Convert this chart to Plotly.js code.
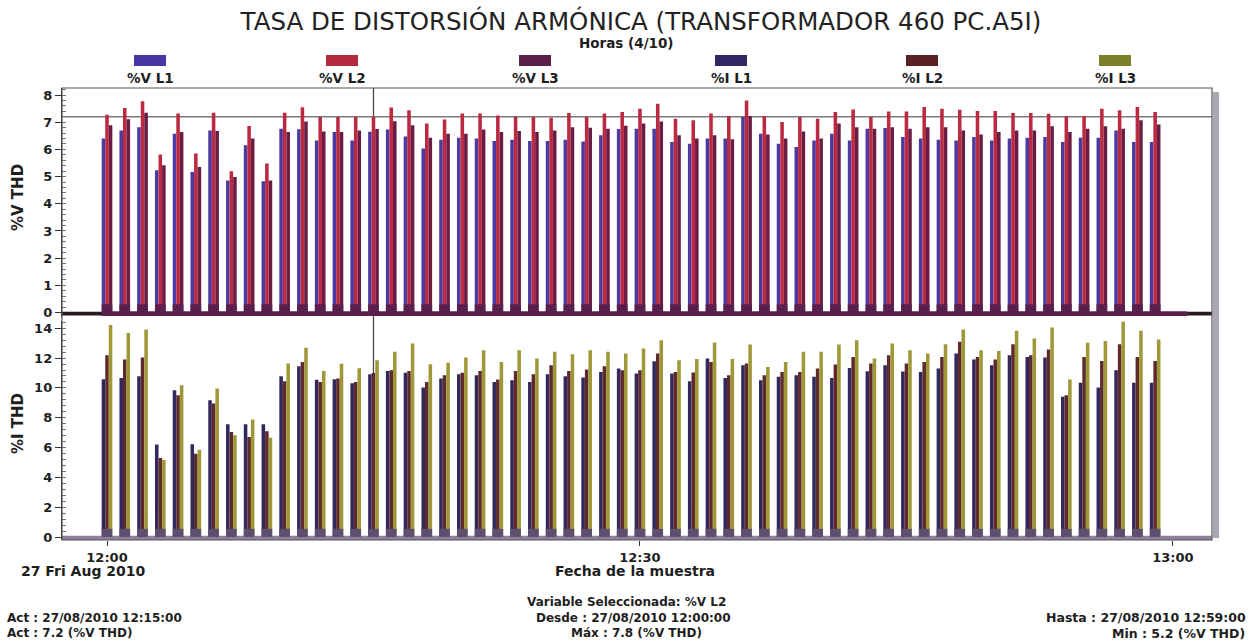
<!DOCTYPE html>
<html>
<head>
<meta charset="utf-8">
<script src="https://cdn.plot.ly/plotly-3.0.1.min.js"></script>
<style>
  html, body { margin: 0; padding: 0; background: #ffffff; }
  #chart { width: 1260px; height: 643px; }
</style>
</head>
<body>
<div id="chart"></div>
<script>
// Sample times (one sample per minute, 27/08/2010)
const times = [
  "12:00","12:01","12:02","12:03","12:04","12:05","12:06","12:07","12:08","12:09",
  "12:10","12:11","12:12","12:13","12:14","12:15","12:16","12:17","12:18","12:19",
  "12:20","12:21","12:22","12:23","12:24","12:25","12:26","12:27","12:28","12:29",
  "12:30","12:31","12:32","12:33","12:34","12:35","12:36","12:37","12:38","12:39",
  "12:40","12:41","12:42","12:43","12:44","12:45","12:46","12:47","12:48","12:49",
  "12:50","12:51","12:52","12:53","12:54","12:55","12:56","12:57","12:58","12:59"
];

// Voltage THD (%) per phase
const vL1 = [
  6.40,6.70,6.82,5.23,6.58,5.17,6.70,4.86,6.15,4.83,6.76,6.74,6.33,6.64,6.33,6.65,
  6.73,6.48,6.03,6.36,6.43,6.40,6.31,6.36,6.31,6.31,6.36,6.29,6.52,6.75,
  6.76,6.76,6.27,6.21,6.40,6.40,7.19,6.58,6.21,6.09,6.33,6.58,6.33,6.76,6.79,6.46,
  6.40,6.36,6.33,6.46,6.33,6.40,6.43,6.46,6.27,6.43,6.43,6.70,6.27,6.27
];
const vL2 = [
  7.28,7.52,7.77,5.81,7.32,5.85,7.35,5.20,6.86,5.48,7.35,7.55,7.19,7.19,7.19,7.20,
  7.54,7.44,6.95,7.10,7.32,7.32,7.25,7.21,7.19,7.17,7.34,7.19,7.32,7.38,
  7.50,7.68,7.13,7.07,7.32,7.23,7.80,7.23,7.01,7.19,7.13,7.38,7.47,7.19,7.40,7.40,
  7.56,7.50,7.46,7.41,7.41,7.34,7.34,7.31,7.22,7.22,7.50,7.44,7.56,7.38
];
const vL3 = [
  6.89,7.11,7.35,5.42,6.64,5.35,6.68,4.99,6.40,4.86,6.64,7.03,6.66,6.64,6.70,6.75,
  7.04,6.89,6.43,6.58,6.58,6.73,6.64,6.68,6.64,6.70,6.82,6.80,6.76,6.87,
  6.95,7.03,6.52,6.40,6.52,6.37,7.23,6.55,6.40,6.66,6.40,6.95,6.82,6.76,6.82,6.76,
  6.82,6.82,6.70,6.55,6.64,6.70,6.70,6.85,6.64,6.76,6.85,6.76,7.07,6.92
];

// Current THD (%) per phase
const iL1 = [
  10.58,10.67,10.78,6.20,9.84,6.22,9.17,7.57,7.57,7.57,10.78,11.45,10.55,10.58,10.32,10.91,
  11.14,11.01,10.03,10.63,10.92,10.85,10.40,10.52,10.40,10.92,10.78,10.70,11.07,11.30,
  10.97,11.79,10.97,10.45,11.97,10.67,11.52,10.52,10.74,10.85,10.74,10.67,11.34,11.12,11.52,11.10,
  11.07,11.30,12.31,11.90,11.52,12.19,12.08,12.04,9.40,10.34,10.03,11.19,10.34,10.34
];
const iL2 = [
  12.19,11.91,12.04,5.30,9.51,5.59,8.95,7.05,6.71,7.09,10.45,11.74,10.40,10.63,10.40,11.00,
  11.19,11.14,10.40,10.85,11.01,11.14,10.56,11.14,10.92,11.52,11.14,11.23,11.46,11.19,
  11.19,12.31,11.07,11.03,11.74,10.85,11.64,10.85,11.07,11.07,11.30,11.57,12.08,11.64,12.19,11.64,
  11.74,12.08,13.09,12.08,11.90,12.93,12.19,12.58,9.51,12.08,11.81,12.93,12.08,11.81
];
const iL3 = [
  14.21,13.69,13.92,5.19,10.18,5.86,9.96,6.83,7.88,6.66,11.64,12.70,11.13,11.62,11.32,11.86,
  12.42,12.98,11.59,11.68,12.04,12.53,11.74,12.53,11.97,12.42,12.26,12.53,12.42,12.31,
  12.64,13.20,11.86,11.93,13.05,11.93,12.91,11.41,11.74,12.42,12.42,12.91,13.20,11.97,12.98,12.53,
  12.31,12.93,13.92,12.53,12.48,13.83,13.31,14.05,10.56,13.02,13.15,14.43,13.83,13.24
];

// Series names and colours
const seriesNames = ["%V L1", "%V L2", "%V L3", "%I L1", "%I L2", "%I L3"];
const barColors   = ["#4b3aa2", "#bb2a40", "#6a1c44", "#33285e", "#5e2a2a", "#9e9838"];
const keyColors   = ["#4636a6", "#b22a3c", "#5a2048", "#2f2862", "#5a2024", "#7c7e2c"];

// Cursor / statistics for the selected variable
const cursorTime = "12:15";
const cursorValue = 7.2;

// ---- helpers -------------------------------------------------------------
const DAY = "2010-08-27 ";
const pad = n => String(n).padStart(2, "0");
const secOf = t => { const p = t.split(":").map(Number); return p[0] * 3600 + p[1] * 60; };
const stamp = s => DAY + pad(Math.floor(s / 3600)) + ":" + pad(Math.floor((s % 3600) / 60)) + ":" + pad(Math.round(s % 60));
const xs = times.map(t => DAY + t + ":00");

// plot area in pixels (for paper-referenced decorations)
const W = 1260, H = 643, L = 62, R = 48, T = 88, B = 103;
const PW = W - L - R, PH = H - T - B;
const px = x => (x - L) / PW;
const py = y => (H - B - y) / PH;

const xStart = stamp(secOf("12:00") - 152);
const xEnd   = stamp(secOf("13:00") + 132);

// ---- traces --------------------------------------------------------------
const vSeries = [vL1, vL2, vL3];
const iSeries = [iL1, iL2, iL3];
const traces = [];
vSeries.forEach((v, k) => traces.push({
  type: "bar", x: xs, y: v, name: seriesNames[k], xaxis: "x", yaxis: "y",
  marker: { color: barColors[k], line: { width: 0 } }, showlegend: false, hoverinfo: "x+y+name"
}));
iSeries.forEach((v, k) => traces.push({
  type: "bar", x: xs, y: v, name: seriesNames[k + 3], xaxis: "x2", yaxis: "y2",
  marker: { color: barColors[k + 3], line: { width: 0 } }, showlegend: false, hoverinfo: "x+y+name"
}));

// ---- decorations ---------------------------------------------------------
const shapes = [];
// cursor lines
shapes.push({ type: "line", xref: "x", yref: "paper", x0: DAY + cursorTime + ":00", x1: DAY + cursorTime + ":00",
  y0: 0, y1: 1, line: { color: "#4a4a4a", width: 1.3 }, layer: "below" });
shapes.push({ type: "line", xref: "paper", yref: "y", x0: 0, x1: 1, y0: cursorValue, y1: cursorValue,
  line: { color: "#7a7a7a", width: 1.6 }, layer: "below" });

// baseline strip of the voltage panel
shapes.push({ type: "rect", xref: "x", yref: "y", x0: stamp(secOf("12:00") - 16), x1: stamp(secOf("13:00") + 48),
  y0: -0.13, y1: 0.05, fillcolor: "#5a1f4c", line: { width: 0 } });
shapes.push({ type: "rect", xref: "x", yref: "y", x0: xStart, x1: stamp(secOf("12:00") - 16),
  y0: -0.11, y1: 0.03, fillcolor: "#2a1a22", line: { width: 0 } });
shapes.push({ type: "rect", xref: "x", yref: "y", x0: stamp(secOf("13:00") + 48), x1: xEnd,
  y0: -0.11, y1: 0.03, fillcolor: "#2a1a22", line: { width: 0 } });
// baseline strip of the current panel
shapes.push({ type: "rect", xref: "x2", yref: "y2", x0: xStart, x1: xEnd,
  y0: -0.2, y1: 0.08, fillcolor: "#8e8098", line: { width: 0 } });
// foot blocks under each sample
times.forEach(t => {
  const s = secOf(t);
  shapes.push({ type: "rect", xref: "x", yref: "y", x0: stamp(s - 18), x1: stamp(s + 18),
    y0: -0.13, y1: 0.3, fillcolor: "#5a1f4c", line: { width: 0 } });
  shapes.push({ type: "rect", xref: "x2", yref: "y2", x0: stamp(s - 18), x1: stamp(s + 18),
    y0: 0, y1: 0.55, fillcolor: "#5e4e70", line: { width: 0 } });
});

// plot frame and side bar
shapes.push({ type: "rect", xref: "paper", yref: "paper", x0: 0, x1: 1, y0: 0, y1: 1,
  line: { color: "#555", width: 1.2 }, fillcolor: "rgba(0,0,0,0)" });
shapes.push({ type: "rect", xref: "paper", yref: "paper", x0: px(1213), x1: px(1219), y0: py(538), y1: py(92),
  line: { width: 0 }, fillcolor: "#a9a8b2" });

// key (swatch above label)
const FAMILY = "DejaVu Sans, Verdana, sans-serif";
const keyX = [150, 342, 535, 731, 922, 1115];
const annotations = [];
const boldFont = (size) => ({ family: FAMILY, size: size, color: "#1e1e1e", weight: 700 });
seriesNames.forEach((n, k) => {
  shapes.push({ type: "rect", xref: "paper", yref: "paper", x0: px(keyX[k] - 16), x1: px(keyX[k] + 16),
    y0: py(66), y1: py(55), fillcolor: keyColors[k], line: { width: 0 } });
  annotations.push({ xref: "paper", yref: "paper", x: px(keyX[k]), y: py(78), text: n, showarrow: false,
    xanchor: "center", yanchor: "middle", font: boldFont(13.5) });
});

const note = (text, x, y, xanchor, size) => annotations.push({
  xref: "paper", yref: "paper", x: px(x), y: py(y), text: text, showarrow: false,
  xanchor: xanchor, yanchor: "middle", font: boldFont(size)
});
note("Horas (4/10)", 626, 43, "center", 13.5);
note("27 Fri Aug 2010", 83, 571, "center", 14);
note("Fecha de la muestra", 635, 571, "center", 14);
note("Variable Seleccionada: %V L2", 626, 602, "center", 12);
note("Desde : 27/08/2010 12:00:00", 633, 618, "center", 12);
note("Máx : 7.8 (%V THD)", 636, 633, "center", 12);
note("Act : 27/08/2010 " + cursorTime + ":00", 5, 618, "left", 12);
note("Act : " + cursorValue + " (%V THD)", 5, 633, "left", 12);
note("Hasta : 27/08/2010 12:59:00", 1248, 617, "right", 12.5);
note("Min : 5.2 (%V THD)", 1247, 633, "right", 12.5);

// axis titles
annotations.push({ xref: "paper", yref: "paper", x: px(18), y: py(198), text: "%V THD", textangle: -90,
  showarrow: false, xanchor: "center", yanchor: "middle", font: boldFont(15) });
annotations.push({ xref: "paper", yref: "paper", x: px(18), y: py(424), text: "%I THD", textangle: -90,
  showarrow: false, xanchor: "center", yanchor: "middle", font: boldFont(15) });

// ---- layout --------------------------------------------------------------
const tickFont = boldFont(13);
const layout = {
  width: W, height: H,
  margin: { l: L, r: R, t: T, b: B, pad: 0 },
  paper_bgcolor: "#ffffff", plot_bgcolor: "#ffffff",
  barmode: "group", bargap: 0.40, bargroupgap: 0,
  showlegend: false,
  title: { text: "TASA DE DISTORSIÓN ARMÓNICA (TRANSFORMADOR 460 PC.A5I)",
    font: { family: FAMILY, size: 24.5, color: "#222" },
    xref: "paper", x: px(641), xanchor: "center", yref: "container", y: 1 - 21 / H, yanchor: "middle" },
  xaxis: {
    type: "date", range: [xStart, xEnd], anchor: "y", showticklabels: false, ticks: "",
    showgrid: false, zeroline: false, showline: false
  },
  xaxis2: {
    type: "date", range: [xStart, xEnd], anchor: "y2", matches: "x",
    tickvals: [DAY + "12:00:00", DAY + "12:30:00", DAY + "13:00:00"],
    ticktext: ["12:00", "12:30", "13:00"],
    ticks: "outside", ticklen: 5, tickcolor: "#333", tickfont: tickFont,
    showgrid: false, zeroline: false, showline: false
  },
  yaxis: {
    domain: [py(316.6), 1], range: [-0.15, 8.26], anchor: "x",
    tickvals: [0, 1, 2, 3, 4, 5, 6, 7, 8], ticks: "outside", ticklen: 6, tickcolor: "#333",
    tickfont: tickFont, showgrid: false, zeroline: false,
    showline: true, linecolor: "#333", linewidth: 1.2,
    minor: { dtick: 0.2, ticks: "inside", ticklen: 4, tickcolor: "#777", showgrid: false }
  },
  yaxis2: {
    domain: [0, py(320.8)], range: [-0.2, 14.5], anchor: "x2",
    tickvals: [0, 2, 4, 6, 8, 10, 12, 14], ticks: "outside", ticklen: 6, tickcolor: "#333",
    tickfont: tickFont, showgrid: false, zeroline: false,
    showline: true, linecolor: "#333", linewidth: 1.2,
    minor: { dtick: 0.4, ticks: "inside", ticklen: 4, tickcolor: "#777", showgrid: false }
  },
  shapes: shapes,
  annotations: annotations
};

Plotly.newPlot("chart", traces, layout, { displayModeBar: false, staticPlot: true });
</script>
</body>
</html>
